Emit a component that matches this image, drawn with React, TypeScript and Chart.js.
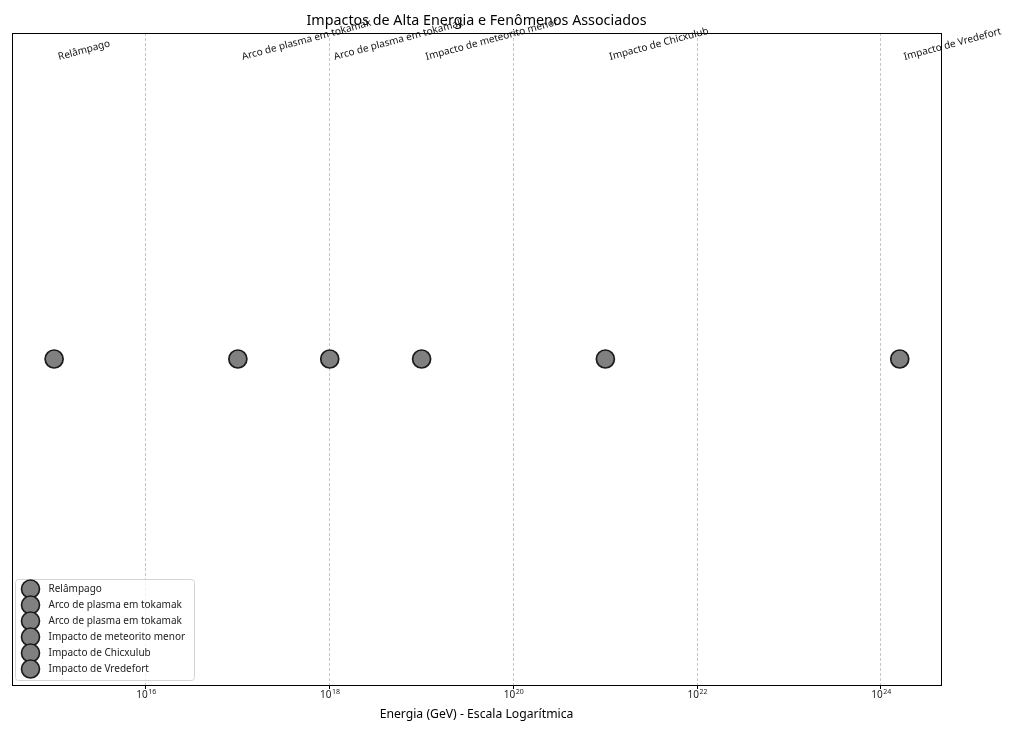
import React, { useEffect, useRef } from "react";
import { Chart, registerables } from "chart.js";

Chart.register(...registerables);

const FONT = "'Noto Sans', 'DejaVu Sans', sans-serif";

const chartTitle = "Impactos de Alta Energia e Fenômenos Associados";
const xAxisTitle = "Energia (GeV) - Escala Logarítmica";
const phenomena = [
  "Relâmpago",
  "Arco de plasma em tokamak",
  "Arco de plasma em tokamak",
  "Impacto de meteorito menor",
  "Impacto de Chicxulub",
  "Impacto de Vredefort",
];
const energiesGeV = [1e15, 1e17, 1e18, 1e19, 1e21, 1.6e24];
const tickValues = [1e16, 1e18, 1e20, 1e22, 1e24];
const tickBase = "10";
const tickExponents = ["16", "18", "20", "22", "24"];
const xMin = 3.48e14;
const xMax = 4.5e24;

export default function App() {
  const ref = useRef<HTMLCanvasElement>(null);

  useEffect(() => {
    document.body.style.margin = "0";
    const canvas = ref.current;
    if (!canvas) return;

    const framePlugin = {
      id: "frame",
      beforeDatasetsDraw(chart: any) {
        const { ctx, chartArea: a } = chart;
        ctx.save();
        ctx.strokeStyle = "#000";
        ctx.lineWidth = 1;
        ctx.setLineDash([]);
        ctx.strokeRect(Math.round(a.left) + 0.5, Math.round(a.top) + 0.5, Math.round(a.right - a.left), Math.round(a.bottom - a.top));
        ctx.restore();
      },
    };

    const overlayPlugin = {
      id: "overlay",
      afterDraw(chart: any) {
        const { ctx, chartArea: a } = chart;
        const xs = chart.scales.x;
        ctx.save();
        // title
        ctx.fillStyle = "#000";
        ctx.font = `14.3px ${FONT}`;
        ctx.textAlign = "center";
        ctx.textBaseline = "middle";
        ctx.fillText(chartTitle, (a.left + a.right) / 2, 21);

        // tick labels with superscript exponents
        ctx.fillStyle = "#222";
        ctx.textBaseline = "alphabetic";
        ctx.textAlign = "left";
        tickValues.forEach((v, i) => {
          const px = xs.getPixelForValue(v);
          ctx.font = `10px ${FONT}`;
          const wb = ctx.measureText(tickBase).width;
          ctx.font = `7px ${FONT}`;
          const we = ctx.measureText(tickExponents[i]).width;
          const x0 = px - (wb + we) / 2;
          ctx.font = `10px ${FONT}`;
          ctx.fillText(tickBase, x0, a.bottom + 13);
          ctx.font = `7px ${FONT}`;
          ctx.fillText(tickExponents[i], x0 + wb + 0.5, a.bottom + 8.5);
        });

        // rotated labels
        ctx.font = `10px ${FONT}`;
        ctx.textAlign = "left";
        ctx.textBaseline = "alphabetic";
        ctx.fillStyle = "#111";
        phenomena.forEach((p, i) => {
          const px = xs.getPixelForValue(energiesGeV[i]);
          ctx.save();
          ctx.translate(px + 5, a.top + 27);
          ctx.rotate((-15 * Math.PI) / 180);
          ctx.fillText(p, 0, 0);
          ctx.restore();
        });

        // legend
        const lx = a.left + 3.5;
        const ly = a.bottom - 105.5;
        const lw = 179;
        const lh = 101;
        ctx.beginPath();
        (ctx as any).roundRect(lx, ly, lw, lh, 3);
        ctx.fillStyle = "rgba(255,255,255,0.8)";
        ctx.fill();
        ctx.strokeStyle = "#d4d4d4";
        ctx.lineWidth = 1;
        ctx.stroke();
        ctx.font = `10px ${FONT}`;
        ctx.textBaseline = "middle";
        phenomena.forEach((p, i) => {
          const y = ly + 9.5 + i * 16;
          ctx.beginPath();
          ctx.arc(lx + 15, y, 9, 0, Math.PI * 2);
          ctx.fillStyle = "#808080";
          ctx.fill();
          ctx.strokeStyle = "#1a1a1a";
          ctx.lineWidth = 1.6;
          ctx.stroke();
          ctx.fillStyle = "#222";
          ctx.fillText(p, lx + 33, y);
        });
        ctx.restore();
      },
    };

    const chart = new Chart(canvas, {
      type: "scatter",
      data: {
        datasets: phenomena.map((p, i) => ({
          label: p,
          data: [{ x: energiesGeV[i], y: 0 }],
          pointRadius: 9,
          pointHoverRadius: 9,
          pointBackgroundColor: "#808080",
          pointBorderColor: "#1a1a1a",
          pointBorderWidth: 1.7,
          showLine: false,
        })),
      },
      options: {
        animation: false,
        responsive: false,
        events: [],
        layout: { padding: { left: 12, right: 83, top: 33, bottom: 0 } },
        plugins: {
          legend: { display: false },
          title: { display: false },
          tooltip: { enabled: false },
        },
        scales: {
          x: {
            type: "logarithmic",
            min: xMin,
            max: xMax,
            afterBuildTicks: (s: any) => {
              s.ticks = tickValues.map((v) => ({ value: v }));
            },
            afterFit: (s: any) => {
              s.height = 46;
            },
            ticks: {
              display: false,
              autoSkip: false,
              maxRotation: 0,
            },
            grid: {
              color: "rgba(0,0,0,0.28)",
              lineWidth: 0.8,
              tickLength: 4,
              tickColor: "#000",
              tickWidth: 1,
              tickBorderDash: [],
            } as any,
            border: { display: false, dash: [3, 2] },
            title: {
              display: true,
              text: xAxisTitle,
              color: "#000",
              font: { family: FONT, size: 12.2 },
              padding: { top: 0, bottom: 9 },
            },
          },
          y: {
            display: false,
            min: -1,
            max: 1,
          },
        },
      },
      plugins: [framePlugin, overlayPlugin],
    } as any);

    return () => chart.destroy();
  }, []);

  return (
    <div style={{ width: 1024, height: 731 }}>
      <canvas ref={ref} width={1024} height={731} />
    </div>
  );
}
